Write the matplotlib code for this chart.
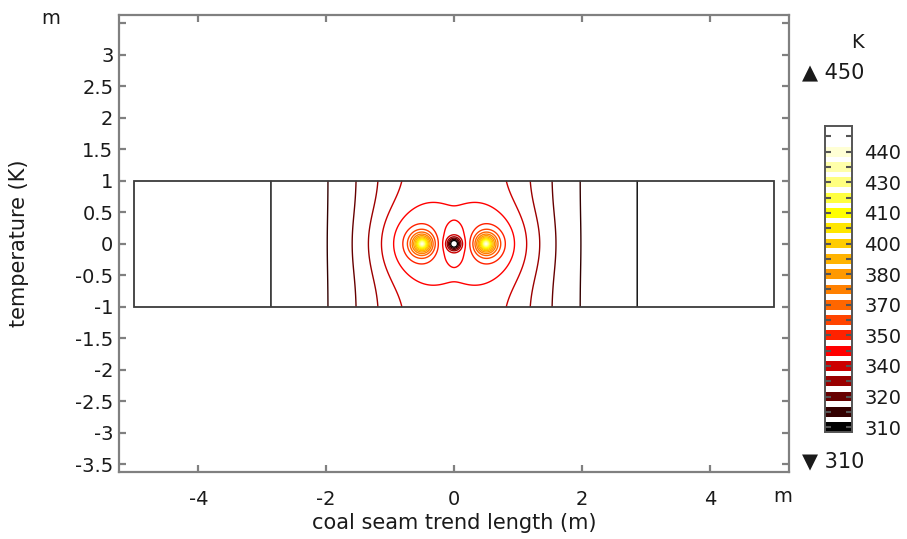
import numpy as np
import matplotlib
matplotlib.use('Agg')
import matplotlib.pyplot as plt
from matplotlib.patches import Rectangle

# geometry of the seam model (m)
domain_x = (-5.0, 5.0)
domain_y = (-1.0, 1.0)
source_x = [-0.5, 0.5]      # two heating points on the axis
sink_x = 0.0                # cooled point between them

# temperature field parameters (K, m)
base_temp = 305.4
band_amp, band_width, band_power = 37.0, 1.556, 3.2
halo_amp, halo_sx, halo_sy = 14.44, 0.696, 0.578
peak_amp, peak_decay, peak_width = 94.0, 0.14, 0.26
sink_amp, sink_width = 45.0, 0.095
chill_amp, chill_width = 17.1, 0.419

# contour levels and colour table
levels = np.linspace(310, 447, 20)
level_colors = ['#000000', '#330000', '#660000', '#990000', '#cc0000',
                '#ff0000', '#ff2200', '#ff4400', '#ff6600', '#ff8000',
                '#ff9900', '#ffb300', '#ffcc00', '#ffe600', '#ffff00',
                '#ffff40', '#ffff80', '#ffffaa', '#ffffd5', '#ffffff']
t_min, t_max = 310, 450

x = np.linspace(domain_x[0], domain_x[1], 1001)
y = np.linspace(domain_y[0], domain_y[1], 201)
X, Y = np.meshgrid(x, y)

T = base_temp + band_amp / (1 + (np.abs(X) / band_width) ** band_power)
for sx in source_x:
    r = np.hypot(X - sx, Y)
    T += halo_amp * np.exp(-((X - sx) / halo_sx) ** 2 - (Y / halo_sy) ** 2)
    T += peak_amp * np.exp(-r / peak_decay - (r / peak_width) ** 2)
r0 = np.hypot(X - sink_x, Y)
T -= sink_amp * np.exp(-(r0 / sink_width) ** 2)
T -= chill_amp * np.exp(-(r0 / chill_width) ** 2)

fig = plt.figure(figsize=(9.07, 5.39), dpi=100)
W, H = 907, 539
ax = fig.add_axes([119 / W, 1 - 472 / H, 669.5 / W, 457 / H])

ax.contour(X, Y, T, levels=levels, colors=level_colors, linewidths=1.0)
ax.add_patch(Rectangle((domain_x[0], domain_y[0]), domain_x[1] - domain_x[0],
                       domain_y[1] - domain_y[0], fill=False,
                       edgecolor='#3a3a3a', linewidth=1.3, zorder=3))

ax.set_xlim(-5.24, 5.23)
ax.set_ylim(-3.62, 3.63)
xt = [-4, -2, 0, 2, 4]
yt = np.arange(-3.5, 3.51, 0.5)
ax.set_xticks(xt)
ax.set_xticklabels([f'{v:g}' for v in xt])
ax.set_yticks(yt)
ax.set_yticklabels(['' if v > 3.2 else f'{v:g}' for v in yt])
for s in ax.spines.values():
    s.set_color('#808080')
    s.set_linewidth(1.6)
ax.tick_params(direction='in', length=5, width=1.6, color='#808080',
               top=True, right=True, labelsize=14, labelcolor='#1a1a1a')
ax.tick_params(axis='x', pad=13)
ax.tick_params(axis='y', pad=4)
ax.set_xlabel('coal seam trend length (m)', fontsize=15, color='#1a1a1a')
ax.set_ylabel('temperature (K)', fontsize=15, color='#1a1a1a')
ax.xaxis.set_label_coords(0.5, -(513 - 472) / 457)
ax.yaxis.set_label_coords(-0.134, 0.5)
fig.text(51 / W, 1 - 18 / H, 'm', fontsize=14, ha='center', va='center', color='#1a1a1a')
fig.text(783 / W, 1 - 497 / H, 'm', fontsize=14, ha='center', va='center', color='#1a1a1a')

# colour legend
cax = fig.add_axes([825 / W, 1 - 432 / H, 27 / W, 306 / H])
for i, c in enumerate(level_colors):
    cax.bar(0.5, 0.64, bottom=i, width=1.0, color=c)
cax.set_xlim(0, 1)
cax.set_ylim(0, len(levels))
cax.set_xticks([])
cax.set_yticks(np.arange(len(levels)) + 0.32)
cax.set_yticklabels([f'{float(f"{v:.2g}"):.0f}' if i % 2 == 0 else ''
                     for i, v in enumerate(levels)])
for s in cax.spines.values():
    s.set_color('#555555')
    s.set_linewidth(1.4)
cax.tick_params(axis='y', direction='in', length=4, width=1.5, color='#555555',
                left=True, right=True, labelleft=False, labelright=True,
                labelsize=14, pad=9, labelcolor='#1a1a1a')
fig.text(857 / W, 1 - 42 / H, 'K', fontsize=14, ha='center', va='center', color='#1a1a1a')
fig.text(802 / W, 1 - 72 / H, f'\u25b2 {t_max}', fontsize=15, ha='left', va='center', color='#1a1a1a')
fig.text(802 / W, 1 - 461 / H, f'\u25bc {t_min}', fontsize=15, ha='left', va='center', color='#1a1a1a')

fig.savefig('out.png', dpi=100)
